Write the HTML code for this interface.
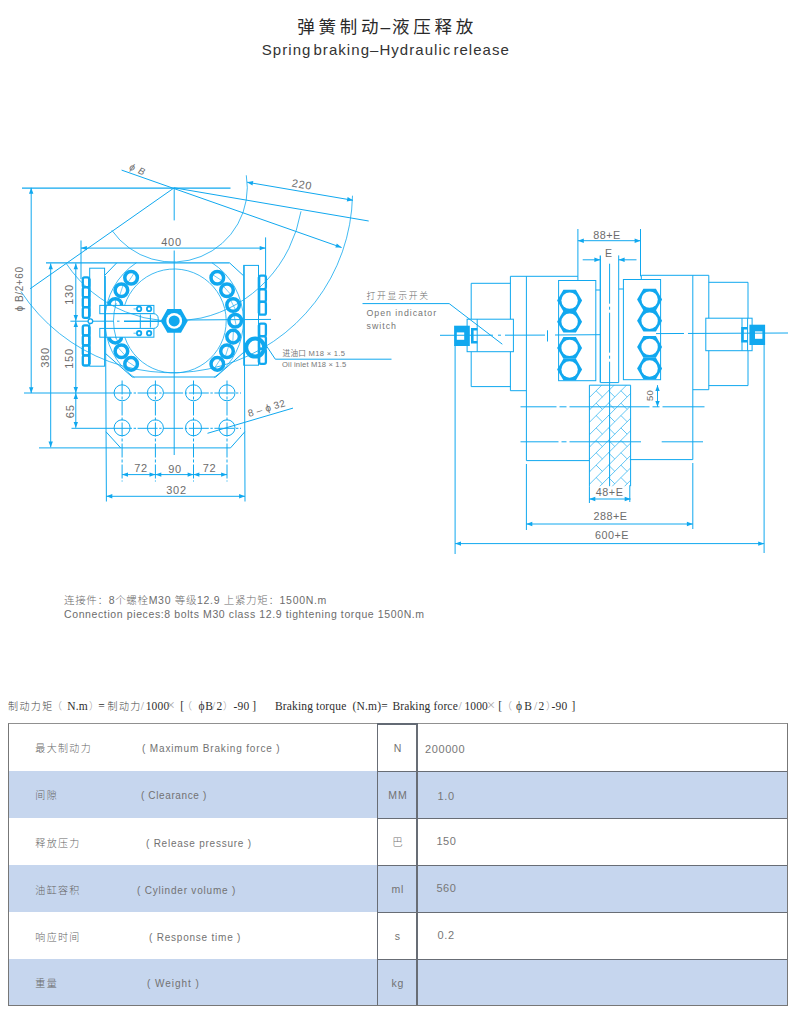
<!DOCTYPE html>
<html lang="zh"><head><meta charset="utf-8"><title>弹簧制动–液压释放</title>
<style>
html,body{margin:0;padding:0;background:#fff;}
body{width:796px;height:1014px;position:relative;overflow:hidden;
 font-family:"Liberation Sans","Noto Sans CJK SC",sans-serif;color:#555;}
.abs{position:absolute;white-space:nowrap;line-height:1;}
#title{left:297.2px;top:18.6px;font-size:17.5px;letter-spacing:3.75px;color:#2a2a2a;}
#sub{left:261.8px;top:41.5px;font-size:15px;letter-spacing:1.05px;word-spacing:-3.2px;color:#333;}
.note{left:64px;font-size:10.5px;color:#6c6c6c;letter-spacing:.55px;font-weight:300;}
.fm{top:700.5px;font-size:11.5px;color:#2e2e2e;font-family:"Liberation Serif","Noto Sans CJK SC",serif;letter-spacing:.15px;}
.fm.c{font-size:10px;top:701.5px;color:#444;font-family:"Liberation Sans","Noto Sans CJK SC",sans-serif;letter-spacing:1.4px;font-weight:300;}
.fm.l{color:#999;}
.fm.x{font-size:15px;top:697.8px;color:#a8a8a8;}
svg{position:absolute;left:0;top:0;}
#tbl{position:absolute;left:8px;top:724px;width:780px;height:282px;}
.row{position:absolute;left:0;width:779.4px;height:47px;}
.row.b{background:#c6d6ee;}
.row span{position:absolute;top:0;line-height:47px;font-size:10px;color:#727272;letter-spacing:.6px;white-space:nowrap;font-weight:300;}
.row .cn{font-size:10px;letter-spacing:1.35px;color:#666;}
.row .u{left:369px;width:41px;text-align:center;font-size:10.5px;letter-spacing:.8px;text-indent:.8px;}
.row .v{font-size:11px;letter-spacing:.6px;color:#777;}
.hl{position:absolute;left:369px;width:410px;height:1.3px;background:#686d75;}
.vl{position:absolute;top:0;height:282px;width:1.3px;background:#686d75;}
#frame{position:absolute;left:7.8px;top:723.1px;width:777.8px;height:281.4px;border:1.4px solid #777;border-top:1.8px solid #909090;}
</style></head><body>
<div id="title" class="abs">弹簧制动<span style="margin:0 -1.9px 0 -1.8px">–</span>液压释放</div>
<div id="sub" class="abs">Spring braking–Hydraulic release</div>
<svg width="796" height="1014" viewBox="0 0 796 1014" fill="none" stroke="#10a8ef" stroke-width="1" font-family="Liberation Sans, Noto Sans CJK SC, sans-serif">
<g id="left-view">
<circle cx="217.3" cy="277.7" r="6.3" stroke-width="3.5" fill="#fff"/>
<line x1="212.7" y1="274.7" x2="221.9" y2="280.7" stroke-width="0.6"/>
<circle cx="227" cy="290.3" r="6.3" stroke-width="3.5" fill="#fff"/>
<line x1="223.3" y1="286.2" x2="230.7" y2="294.4" stroke-width="0.6"/>
<circle cx="233.1" cy="305" r="6.3" stroke-width="3.5" fill="#fff"/>
<line x1="230.6" y1="300.1" x2="235.6" y2="309.9" stroke-width="0.6"/>
<circle cx="235.2" cy="320.8" r="6.3" stroke-width="3.5" fill="#fff"/>
<line x1="234.1" y1="315.4" x2="236.3" y2="326.2" stroke-width="0.6"/>
<circle cx="233.1" cy="336.6" r="6.3" stroke-width="3.5" fill="#fff"/>
<line x1="233.4" y1="331.1" x2="232.8" y2="342.1" stroke-width="0.6"/>
<circle cx="227" cy="351.3" r="6.3" stroke-width="3.5" fill="#fff"/>
<line x1="228.7" y1="346.1" x2="225.3" y2="356.5" stroke-width="0.6"/>
<circle cx="217.3" cy="363.9" r="6.3" stroke-width="3.5" fill="#fff"/>
<line x1="220.3" y1="359.3" x2="214.3" y2="368.5" stroke-width="0.6"/>
<circle cx="131.1" cy="363.9" r="6.3" stroke-width="3.5" fill="#fff"/>
<line x1="135.7" y1="366.9" x2="126.5" y2="360.9" stroke-width="0.6"/>
<circle cx="121.4" cy="351.3" r="6.3" stroke-width="3.5" fill="#fff"/>
<line x1="125.1" y1="355.4" x2="117.7" y2="347.2" stroke-width="0.6"/>
<circle cx="115.3" cy="336.6" r="6.3" stroke-width="3.5" fill="#fff"/>
<line x1="117.8" y1="341.5" x2="112.8" y2="331.7" stroke-width="0.6"/>
<circle cx="115.3" cy="305" r="6.3" stroke-width="3.5" fill="#fff"/>
<line x1="115" y1="310.5" x2="115.6" y2="299.5" stroke-width="0.6"/>
<circle cx="121.4" cy="290.3" r="6.3" stroke-width="3.5" fill="#fff"/>
<line x1="119.7" y1="295.5" x2="123.1" y2="285.1" stroke-width="0.6"/>
<circle cx="131.1" cy="277.7" r="6.3" stroke-width="3.5" fill="#fff"/>
<line x1="128.1" y1="282.3" x2="134.1" y2="273.1" stroke-width="0.6"/>
<rect x="99.8" y="305.4" width="54.1" height="8.3" fill="#fff"/>
<rect x="99.8" y="328.4" width="54.1" height="8.8" fill="#fff"/>
<path d="M113.9 313.7H153.6a4.6 4.6 0 0 1 4.6 4.6v5.5a4.6 4.6 0 0 1 -4.6 4.6H113.9" fill="#fff"/>
<rect x="89.7" y="268.2" width="14.9" height="98" />
<rect x="243.7" y="265.4" width="14.8" height="99.8" />
<rect x="82.8" y="277.4" width="6.4" height="9.8" rx="1.8" stroke-width="2.3" fill="#fff"/><rect x="82.8" y="287.4" width="6.4" height="9.8" rx="1.8" stroke-width="2.3" fill="#fff"/><rect x="82.8" y="297.4" width="6.4" height="9.8" rx="1.8" stroke-width="2.3" fill="#fff"/><rect x="82.8" y="307.4" width="6.4" height="10.4" rx="1.8" stroke-width="2.3" fill="#fff"/><line x1="89.4" y1="278.8" x2="89.4" y2="316.4" stroke-width="2.4"/><rect x="82.8" y="325.3" width="6.4" height="10" rx="1.8" stroke-width="2.3" fill="#fff"/><rect x="82.8" y="335.5" width="6.4" height="9.8" rx="1.8" stroke-width="2.3" fill="#fff"/><rect x="82.8" y="345.5" width="6.4" height="9.8" rx="1.8" stroke-width="2.3" fill="#fff"/><rect x="82.8" y="355.5" width="6.4" height="10" rx="1.8" stroke-width="2.3" fill="#fff"/><line x1="89.4" y1="326.7" x2="89.4" y2="364.1" stroke-width="2.4"/>
<rect x="259.1" y="275.7" width="6.8" height="13.4" rx="1.8" stroke-width="2.3" fill="#fff"/><rect x="259.1" y="289.3" width="6.8" height="12.4" rx="1.8" stroke-width="2.3" fill="#fff"/><rect x="259.1" y="301.9" width="6.8" height="12.8" rx="1.8" stroke-width="2.3" fill="#fff"/><line x1="258.9" y1="277.1" x2="258.9" y2="313.3" stroke-width="2.4"/><rect x="259.1" y="323.7" width="6.8" height="12.4" rx="1.8" stroke-width="2.3" fill="#fff"/><rect x="259.1" y="336.3" width="6.8" height="12.4" rx="1.8" stroke-width="2.3" fill="#fff"/><rect x="259.1" y="348.9" width="6.8" height="15" rx="1.8" stroke-width="2.3" fill="#fff"/><line x1="258.9" y1="325.1" x2="258.9" y2="362.5" stroke-width="2.4"/>
<line x1="22" y1="188" x2="230.5" y2="188" stroke-width="1.25"/>
<line x1="121.6" y1="170.1" x2="341.6" y2="247.5"/>
<path d="M341.6 247.5L335.3 247.6L336.8 243.5Z" fill="#10a8ef" stroke="none"/>
<line x1="174.2" y1="187.8" x2="368.7" y2="221"/>
<line x1="30.2" y1="288.7" x2="174.2" y2="187.8"/>
<path d="M246.3 175.3A74.5 74.5 0 0 1 111.8 230.3" stroke-width="0.8"/>
<path d="M301 211.3A129.8 133 0 0 1 66.5 263.9" stroke-width="0.8"/>
<path d="M352.5 195.7A180.7 180.7 0 0 1 20.9 291.4" stroke-width="0.8"/>
<line x1="247.1" y1="182.2" x2="353" y2="200.3"/><path d="M247.1 182.2L253.3 181L252.5 185.4Z" fill="#10a8ef" stroke="none"/><path d="M353 200.3L346.8 201.5L347.6 197.1Z" fill="#10a8ef" stroke="none"/>
<text x="301.4" y="188.3" font-size="11" text-anchor="middle" fill="#6c6c6c" stroke="none" letter-spacing="0.7" transform="rotate(9.7 301.4 188.3)">220</text>
<text x="136.5" y="172.5" font-size="9.5" text-anchor="middle" fill="#6c6c6c" stroke="none" letter-spacing="0.8" transform="rotate(22 136.5 172.5)" font-style="italic">ϕ B</text>
<line x1="31.2" y1="187.8" x2="31.2" y2="393.1"/><path d="M31.2 187.8L33.4 193.7L29 193.7Z" fill="#10a8ef" stroke="none"/><path d="M31.2 393.1L29 387.2L33.4 387.2Z" fill="#10a8ef" stroke="none"/>
<text x="22.6" y="289" font-size="10" text-anchor="middle" fill="#6c6c6c" stroke="none" letter-spacing="0.6" transform="rotate(-90 22.6 289)">ϕ B/2+60</text>
<line x1="81" y1="240.5" x2="81" y2="279"/>
<line x1="265.6" y1="237.4" x2="265.6" y2="278"/>
<line x1="81" y1="248.1" x2="265.6" y2="248.1"/><path d="M81 248.1L86.9 245.9L86.9 250.3Z" fill="#10a8ef" stroke="none"/><path d="M265.6 248.1L259.7 250.3L259.7 245.9Z" fill="#10a8ef" stroke="none"/>
<text x="171.5" y="246.2" font-size="11" text-anchor="middle" fill="#6c6c6c" stroke="none" letter-spacing="0.7">400</text>
<line x1="174.2" y1="187.8" x2="174.2" y2="220.4"/>
<line x1="174.2" y1="250.5" x2="174.2" y2="455"/>
<line x1="46" y1="262.9" x2="229.6" y2="262.9" stroke-width="1.2"/>
<line x1="116.7" y1="262.9" x2="105" y2="275"/>
<line x1="229.6" y1="262.9" x2="243.4" y2="275.6"/>
<line x1="50.7" y1="263.4" x2="50.7" y2="447.3"/><path d="M50.7 263.4L52.9 269.3L48.5 269.3Z" fill="#10a8ef" stroke="none"/><path d="M50.7 447.3L48.5 441.4L52.9 441.4Z" fill="#10a8ef" stroke="none"/>
<text x="49.3" y="357.5" font-size="11" text-anchor="middle" fill="#6c6c6c" stroke="none" letter-spacing="0.7" transform="rotate(-90 49.3 357.5)">380</text>
<line x1="75.8" y1="263.4" x2="75.8" y2="321"/><path d="M75.8 263.4L78 269.3L73.6 269.3Z" fill="#10a8ef" stroke="none"/><path d="M75.8 321L73.6 315.1L78 315.1Z" fill="#10a8ef" stroke="none"/>
<line x1="75.8" y1="321" x2="75.8" y2="393"/><path d="M75.8 321L78 326.9L73.6 326.9Z" fill="#10a8ef" stroke="none"/><path d="M75.8 393L73.6 387.1L78 387.1Z" fill="#10a8ef" stroke="none"/>
<line x1="75.8" y1="393" x2="75.8" y2="427.8"/><path d="M75.8 393L78 398.9L73.6 398.9Z" fill="#10a8ef" stroke="none"/><path d="M75.8 427.8L73.6 421.9L78 421.9Z" fill="#10a8ef" stroke="none"/>
<text x="73" y="294.5" font-size="11" text-anchor="middle" fill="#6c6c6c" stroke="none" letter-spacing="0.7" transform="rotate(-90 73 294.5)">130</text>
<text x="73" y="358.5" font-size="11" text-anchor="middle" fill="#6c6c6c" stroke="none" letter-spacing="0.7" transform="rotate(-90 73 358.5)">150</text>
<text x="73.6" y="411.3" font-size="11" text-anchor="middle" fill="#6c6c6c" stroke="none" letter-spacing="0.7" transform="rotate(-90 73.6 411.3)">65</text>
<line x1="70.4" y1="321.2" x2="113.5" y2="321.2"/>
<line x1="187" y1="320" x2="271" y2="319.4"/>
<circle cx="90.4" cy="321.2" r="2.3" fill="#fff" stroke-width="1.3"/>
<path d="M124.6 305.4A52 52 0 1 1 124.9 337.5" stroke-width="0.8"/>
<path d="M211.9 262.7A69.3 69.3 0 0 1 213.9 377.6" stroke-width="0.8"/>
<path d="M134.5 377.6A69.3 69.3 0 0 1 136.5 262.7" stroke-width="0.8"/>
<path d="M116.2 338.5A60.6 60.6 0 0 1 116.2 303.1" stroke-width="0.8"/>
<line x1="132.2" y1="377" x2="215.8" y2="377"/>
<line x1="132.2" y1="377" x2="105.5" y2="353.5"/>
<line x1="215.8" y1="377" x2="244" y2="352"/>
<line x1="140.3" y1="314.5" x2="140.3" y2="328"/>
<line x1="150.4" y1="314.5" x2="150.4" y2="327.6"/>
<line x1="124" y1="321.2" x2="161" y2="321.2" stroke-width="1.5"/>
<line x1="117" y1="321.2" x2="119.5" y2="321.2"/>
<circle cx="139.1" cy="308.9" r="2.2" stroke-width="1.8" fill="#fff"/>
<circle cx="139.1" cy="333.2" r="2.2" stroke-width="1.8" fill="#fff"/>
<circle cx="149.1" cy="308.9" r="2.2" stroke-width="1.8" fill="#fff"/>
<circle cx="149.1" cy="333.2" r="2.2" stroke-width="1.8" fill="#fff"/>
<line x1="133.5" y1="308.9" x2="136" y2="308.9" stroke-width="0.7"/>
<line x1="133.5" y1="333.2" x2="136" y2="333.2" stroke-width="0.7"/>
<polygon points="187.8,320.9 181,332.7 167.4,332.7 160.6,320.9 167.4,309.1 181,309.1" fill="#10a8ef" stroke="none"/>
<circle cx="174.2" cy="320.90000000000003" r="7.9" fill="#fff" stroke="none"/>
<circle cx="174.2" cy="320.90000000000003" r="5.5" fill="#10a8ef" stroke="none"/>
<circle cx="255.2" cy="347.6" r="9" stroke-width="4"/>
<path d="M265.6 344.6L275.3 359.2H391.5"/>
<text x="282.5" y="355.8" font-size="7.6" text-anchor="start" fill="#777" stroke="none" letter-spacing="0.3">进油口 M18 × 1.5</text>
<text x="282" y="367" font-size="7.6" text-anchor="start" fill="#777" stroke="none" letter-spacing="0.15">Oil inlet M18 × 1.5</text>
<line x1="105.3" y1="276" x2="106.4" y2="501.5"/>
<line x1="244.2" y1="265.4" x2="245" y2="501.5"/>
<line x1="39" y1="447.9" x2="230.5" y2="447.9"/>
<line x1="106" y1="431.8" x2="120.7" y2="447.9"/>
<line x1="244.8" y1="431.8" x2="230.5" y2="447.9"/>
<circle cx="122.1" cy="392.8" r="8"/>
<circle cx="155.4" cy="392.8" r="8"/>
<circle cx="193.5" cy="392.8" r="8"/>
<circle cx="227" cy="392.8" r="8"/>
<circle cx="122.1" cy="427.8" r="8"/>
<circle cx="155.4" cy="427.8" r="8"/>
<circle cx="193.5" cy="427.8" r="8"/>
<circle cx="227" cy="427.8" r="8"/>
<line x1="24" y1="393" x2="112" y2="393"/>
<line x1="71.5" y1="428.3" x2="112" y2="428.3"/>
<line x1="112" y1="393" x2="241" y2="393" stroke-dasharray="20 1.6 2.4 1.6"/>
<line x1="112" y1="428.3" x2="241" y2="428.3" stroke-dasharray="20 1.6 2.4 1.6"/>
<line x1="122.1" y1="380.5" x2="122.1" y2="481.5" stroke-dasharray="14 2 3 2"/>
<line x1="155.4" y1="380.5" x2="155.4" y2="481.5" stroke-dasharray="14 2 3 2"/>
<line x1="193.5" y1="380.5" x2="193.5" y2="481.5" stroke-dasharray="14 2 3 2"/>
<line x1="227" y1="380.5" x2="227" y2="481.5" stroke-dasharray="14 2 3 2"/>
<line x1="207.5" y1="433.3" x2="293" y2="408.1"/>
<text x="267.5" y="411.5" font-size="10" text-anchor="middle" fill="#6c6c6c" stroke="none" letter-spacing="0.3" transform="rotate(-16.4 267.5 411.5)">8 – ϕ 32</text>
<line x1="122.1" y1="474.6" x2="155.4" y2="474.6"/><path d="M122.1 474.6L128 472.4L128 476.8Z" fill="#10a8ef" stroke="none"/><path d="M155.4 474.6L149.5 476.8L149.5 472.4Z" fill="#10a8ef" stroke="none"/>
<line x1="155.4" y1="474.6" x2="193.5" y2="474.6"/><path d="M155.4 474.6L161.3 472.4L161.3 476.8Z" fill="#10a8ef" stroke="none"/><path d="M193.5 474.6L187.6 476.8L187.6 472.4Z" fill="#10a8ef" stroke="none"/>
<line x1="193.5" y1="474.6" x2="227" y2="474.6"/><path d="M193.5 474.6L199.4 472.4L199.4 476.8Z" fill="#10a8ef" stroke="none"/><path d="M227 474.6L221.1 476.8L221.1 472.4Z" fill="#10a8ef" stroke="none"/>
<text x="141" y="472.2" font-size="11" text-anchor="middle" fill="#6c6c6c" stroke="none" letter-spacing="0.7">72</text>
<text x="175" y="472.6" font-size="11" text-anchor="middle" fill="#6c6c6c" stroke="none" letter-spacing="0.7">90</text>
<text x="209.5" y="472.2" font-size="11" text-anchor="middle" fill="#6c6c6c" stroke="none" letter-spacing="0.7">72</text>
<line x1="106.4" y1="496.3" x2="245" y2="496.3"/><path d="M106.4 496.3L112.3 494.1L112.3 498.5Z" fill="#10a8ef" stroke="none"/><path d="M245 496.3L239.1 498.5L239.1 494.1Z" fill="#10a8ef" stroke="none"/>
<text x="176.5" y="493.8" font-size="11" text-anchor="middle" fill="#6c6c6c" stroke="none" letter-spacing="0.7">302</text>
</g>
<g id="right-view">
<line x1="555" y1="335" x2="600" y2="334.7"/>
<line x1="547.5" y1="330.3" x2="547.5" y2="341.5"/>
<path d="M510.4 390.7V276.3H577.9V280.5"/><line x1="510.4" y1="390.7" x2="526.4" y2="390.7"/><line x1="526.4" y1="276.3" x2="526.4" y2="460.6"/><line x1="526.4" y1="460.6" x2="589.4" y2="460.6"/><path d="M510.4 283.3H471.2V386.6H510.4"/><rect x="558.6" y="280.5" width="37.2" height="100.2"/><line x1="595.8" y1="290" x2="600.3" y2="290"/><polygon points="582.1,300.6 575.9,311.4 563.4,311.4 557.1,300.6 563.4,289.8 575.9,289.8" fill="#10a8ef" stroke="none"/><circle cx="569.6" cy="300.6" r="8.2" fill="#fff" stroke="none"/><polygon points="582.1,321.8 575.9,332.6 563.4,332.6 557.1,321.8 563.4,311 575.9,311" fill="#10a8ef" stroke="none"/><circle cx="569.6" cy="321.8" r="8.2" fill="#fff" stroke="none"/><polygon points="582.1,347.9 575.9,358.7 563.4,358.7 557.1,347.9 563.4,337.1 575.9,337.1" fill="#10a8ef" stroke="none"/><circle cx="569.6" cy="347.9" r="8.2" fill="#fff" stroke="none"/><polygon points="582.1,369.5 575.9,380.3 563.4,380.3 557.1,369.5 563.4,358.7 575.9,358.7" fill="#10a8ef" stroke="none"/><circle cx="569.6" cy="369.5" r="8.2" fill="#fff" stroke="none"/><rect x="467.1" y="319.2" width="46.3" height="32.5" fill="#fff"/><line x1="477.2" y1="319.2" x2="477.2" y2="351.7"/><rect x="454.1" y="325.7" width="15.7" height="20.3" fill="#10a8ef" stroke="none"/><rect x="456.8" y="332.4" width="7.4" height="7.4" fill="#fff" stroke="none"/><path d="M477.4 329.2H472.3V342.2H477.4" stroke-width="2.6"/><line x1="455.1" y1="345.2" x2="455.1" y2="554"/><line x1="526.4" y1="464" x2="526.4" y2="530"/><line x1="589.4" y1="486.2" x2="589.4" y2="503"/>
<g transform="translate(0 -1)"><path d="M708.8 390.7V276.3H641.3V280.5"/><line x1="708.8" y1="390.7" x2="692.8" y2="390.7"/><line x1="692.8" y1="276.3" x2="692.8" y2="460.6"/><line x1="692.8" y1="460.6" x2="629.8" y2="460.6"/><path d="M708.8 283.3H748V386.6H708.8"/><rect x="623.4" y="280.5" width="37.2" height="100.2"/><line x1="623.4" y1="290" x2="618.9" y2="290"/><polygon points="662.1,300.6 655.9,311.4 643.4,311.4 637.1,300.6 643.4,289.8 655.9,289.8" fill="#10a8ef" stroke="none"/><circle cx="649.6" cy="300.6" r="8.2" fill="#fff" stroke="none"/><polygon points="662.1,321.8 655.9,332.6 643.4,332.6 637.1,321.8 643.4,311 655.9,311" fill="#10a8ef" stroke="none"/><circle cx="649.6" cy="321.8" r="8.2" fill="#fff" stroke="none"/><polygon points="662.1,347.9 655.9,358.7 643.4,358.7 637.1,347.9 643.4,337.1 655.9,337.1" fill="#10a8ef" stroke="none"/><circle cx="649.6" cy="347.9" r="8.2" fill="#fff" stroke="none"/><polygon points="662.1,369.5 655.9,380.3 643.4,380.3 637.1,369.5 643.4,358.7 655.9,358.7" fill="#10a8ef" stroke="none"/><circle cx="649.6" cy="369.5" r="8.2" fill="#fff" stroke="none"/><rect x="705.8" y="319.2" width="46.3" height="32.5" fill="#fff"/><line x1="742" y1="319.2" x2="742" y2="351.7"/><rect x="749.4" y="325.7" width="15.7" height="20.3" fill="#10a8ef" stroke="none"/><rect x="755" y="332.4" width="7.4" height="7.4" fill="#fff" stroke="none"/><path d="M747.4 329.2H742.5V342.2H747.4" stroke-width="2.6"/><line x1="747.6" y1="319.2" x2="747.6" y2="351.7"/><line x1="764.1" y1="345.2" x2="764.1" y2="554"/><line x1="692.8" y1="464" x2="692.8" y2="530"/><line x1="629.8" y1="486.2" x2="629.8" y2="503"/></g>
<line x1="440" y1="335.3" x2="545" y2="335.1" stroke-dasharray="53 5 3 4 40 0"/>
<line x1="656" y1="333.6" x2="788" y2="333" stroke-dasharray="28 4 18 0 100 0"/>
<line x1="600.3" y1="255.4" x2="600.3" y2="382.6" stroke-width="1.3"/>
<line x1="618.7" y1="255.4" x2="618.7" y2="382.6"/>
<line x1="600.3" y1="382.6" x2="618.7" y2="382.6"/>
<line x1="609.6" y1="263.7" x2="609.6" y2="382" stroke-dasharray="40 3 3 3"/>
<line x1="609.6" y1="382" x2="609.6" y2="486.2"/>
<clipPath id="hc"><rect x="589.4" y="385.2" width="41.2" height="101"/></clipPath><g clip-path="url(#hc)" stroke-width="0.65"><line x1="587.4" y1="362.3" x2="632.6" y2="317.1"/><line x1="587.4" y1="374.7" x2="632.6" y2="329.5"/><line x1="583.8" y1="378.3" x2="589.9" y2="384.5"/><line x1="587.4" y1="387.1" x2="632.6" y2="341.9"/><line x1="583.8" y1="390.7" x2="589.9" y2="396.9"/><line x1="596.1" y1="378.3" x2="602.3" y2="384.5"/><line x1="587.4" y1="399.5" x2="632.6" y2="354.3"/><line x1="583.8" y1="403.1" x2="589.9" y2="409.3"/><line x1="596.1" y1="390.8" x2="602.4" y2="396.9"/><line x1="608.5" y1="378.3" x2="614.8" y2="384.5"/><line x1="587.4" y1="411.9" x2="632.6" y2="366.7"/><line x1="583.8" y1="415.5" x2="589.9" y2="421.8"/><line x1="596.1" y1="403.1" x2="602.3" y2="409.3"/><line x1="608.5" y1="390.8" x2="614.8" y2="396.9"/><line x1="621" y1="378.3" x2="627.1" y2="384.5"/><line x1="587.4" y1="424.3" x2="632.6" y2="379.1"/><line x1="583.8" y1="427.9" x2="589.9" y2="434.1"/><line x1="596.1" y1="415.5" x2="602.3" y2="421.7"/><line x1="608.5" y1="403.1" x2="614.8" y2="409.3"/><line x1="620.9" y1="390.7" x2="627.1" y2="396.9"/><line x1="633.3" y1="378.3" x2="639.5" y2="384.5"/><line x1="587.4" y1="436.7" x2="632.6" y2="391.5"/><line x1="583.8" y1="440.3" x2="590" y2="446.6"/><line x1="596.1" y1="427.9" x2="602.4" y2="434.1"/><line x1="608.5" y1="415.5" x2="614.8" y2="421.8"/><line x1="620.9" y1="403.1" x2="627.1" y2="409.4"/><line x1="633.3" y1="390.7" x2="639.5" y2="396.9"/><line x1="587.4" y1="449.1" x2="632.6" y2="403.9"/><line x1="583.8" y1="452.8" x2="590" y2="459"/><line x1="596.1" y1="440.4" x2="602.4" y2="446.6"/><line x1="608.5" y1="427.9" x2="614.8" y2="434.2"/><line x1="621" y1="415.6" x2="627.2" y2="421.8"/><line x1="633.4" y1="403.1" x2="639.6" y2="409.4"/><line x1="587.4" y1="461.5" x2="632.6" y2="416.3"/><line x1="583.7" y1="465.1" x2="589.9" y2="471.3"/><line x1="596.1" y1="452.7" x2="602.4" y2="458.9"/><line x1="608.5" y1="440.3" x2="614.8" y2="446.5"/><line x1="620.9" y1="427.9" x2="627.1" y2="434.1"/><line x1="633.3" y1="415.5" x2="639.5" y2="421.8"/><line x1="587.4" y1="473.9" x2="632.6" y2="428.7"/><line x1="583.8" y1="477.5" x2="590" y2="483.8"/><line x1="596.1" y1="465.1" x2="602.4" y2="471.4"/><line x1="608.5" y1="452.8" x2="614.8" y2="459"/><line x1="620.9" y1="440.3" x2="627.1" y2="446.6"/><line x1="633.4" y1="427.9" x2="639.6" y2="434.2"/><line x1="587.4" y1="486.3" x2="632.6" y2="441.1"/><line x1="596.1" y1="477.5" x2="602.3" y2="483.7"/><line x1="608.5" y1="465.1" x2="614.8" y2="471.3"/><line x1="620.9" y1="452.7" x2="627.1" y2="458.9"/><line x1="633.3" y1="440.3" x2="639.5" y2="446.5"/><line x1="587.4" y1="498.7" x2="632.6" y2="453.5"/><line x1="608.5" y1="477.5" x2="614.8" y2="483.8"/><line x1="620.9" y1="465.1" x2="627.1" y2="471.4"/><line x1="633.3" y1="452.7" x2="639.5" y2="458.9"/><line x1="587.4" y1="511.1" x2="632.6" y2="465.9"/><line x1="621" y1="477.6" x2="627.2" y2="483.8"/><line x1="633.4" y1="465.1" x2="639.6" y2="471.4"/><line x1="587.4" y1="523.5" x2="632.6" y2="478.3"/><line x1="633.3" y1="477.5" x2="639.5" y2="483.8"/></g><path d="M589.4 486.2V385.2H630.6V486.2"/>
<line x1="520.5" y1="406.8" x2="704.5" y2="406.8" stroke-dasharray="36 3 7 3 80 3 7 3 60 0"/>
<line x1="520.5" y1="441.8" x2="641" y2="441.8" stroke-dasharray="38 3 5 3 80 0"/>
<line x1="661.7" y1="441.8" x2="703" y2="441.8"/>
<line x1="577.9" y1="229" x2="577.9" y2="276.3"/>
<line x1="640.5" y1="229" x2="640.5" y2="276.3"/>
<line x1="577.9" y1="240.7" x2="640.5" y2="240.7"/><path d="M577.9 240.7L583.8 238.5L583.8 242.9Z" fill="#10a8ef" stroke="none"/><path d="M640.5 240.7L634.6 242.9L634.6 238.5Z" fill="#10a8ef" stroke="none"/>
<text x="607" y="238.6" font-size="10.8" text-anchor="middle" fill="#6c6c6c" stroke="none" letter-spacing="0.5">88+E</text>
<line x1="582.7" y1="259.8" x2="600.3" y2="259.8"/>
<path d="M600.3 259.8L594.4 262L594.4 257.6Z" fill="#10a8ef" stroke="none"/>
<line x1="618.7" y1="259.8" x2="636.5" y2="259.8"/>
<path d="M618.7 259.8L624.6 257.6L624.6 262Z" fill="#10a8ef" stroke="none"/>
<text x="608.8" y="257.4" font-size="10.5" text-anchor="middle" fill="#6c6c6c" stroke="none" letter-spacing="0.4">E</text>
<line x1="657.5" y1="385.2" x2="657.5" y2="406.8"/><path d="M657.5 385.2L659.7 391.1L655.3 391.1Z" fill="#10a8ef" stroke="none"/><path d="M657.5 406.8L655.3 400.9L659.7 400.9Z" fill="#10a8ef" stroke="none"/>
<text x="653.3" y="395.6" font-size="9.5" text-anchor="middle" fill="#6c6c6c" stroke="none" letter-spacing="0.2" transform="rotate(-90 653.3 395.6)">50</text>
<line x1="589.4" y1="499" x2="630.6" y2="499"/><path d="M589.4 499L595.3 496.8L595.3 501.2Z" fill="#10a8ef" stroke="none"/><path d="M630.6 499L624.7 501.2L624.7 496.8Z" fill="#10a8ef" stroke="none"/>
<text x="609.6" y="496.2" font-size="10.8" text-anchor="middle" fill="#6c6c6c" stroke="none" letter-spacing="0.5">48+E</text>
<line x1="526.4" y1="524" x2="692.8" y2="524"/><path d="M526.4 524L532.3 521.8L532.3 526.2Z" fill="#10a8ef" stroke="none"/><path d="M692.8 524L686.9 526.2L686.9 521.8Z" fill="#10a8ef" stroke="none"/>
<text x="610.5" y="519.6" font-size="10.8" text-anchor="middle" fill="#6c6c6c" stroke="none" letter-spacing="0.5">288+E</text>
<line x1="455.1" y1="543.6" x2="764.1" y2="543.6"/><path d="M455.1 543.6L461 541.4L461 545.8Z" fill="#10a8ef" stroke="none"/><path d="M764.1 543.6L758.2 545.8L758.2 541.4Z" fill="#10a8ef" stroke="none"/>
<text x="612" y="538.9" font-size="10.8" text-anchor="middle" fill="#6c6c6c" stroke="none" letter-spacing="0.5">600+E</text>
<path d="M362.5 303.6H449.2L502.3 344.2"/>
<text x="366.5" y="299.4" font-size="8.8" text-anchor="start" fill="#6a6a6a" stroke="none" letter-spacing="1.75" font-weight="300">打开显示开关</text>
<text x="366.5" y="315.6" font-size="8.8" text-anchor="start" fill="#757575" stroke="none" letter-spacing="0.95">Open indicator</text>
<text x="366.5" y="329.3" font-size="8.8" text-anchor="start" fill="#757575" stroke="none" letter-spacing="1.0">switch</text>
</g>
</svg>
<div class="abs note" style="top:595px;letter-spacing:.67px">连接件：8个螺栓M30 等级12.9 上紧力矩：1500N.m</div>
<div class="abs note" style="top:609px;letter-spacing:.61px">Connection pieces:8 bolts M30 class 12.9 tightening torque 1500N.m</div>
<span class="abs fm c" style="left:8px">制动力矩</span><span class="abs fm c l" style="left:52px">（</span><span class="abs fm " style="left:67.3px">N.m</span><span class="abs fm c l" style="left:89px">）</span><span class="abs fm " style="left:98.3px">=</span><span class="abs fm c" style="left:107.5px">制动力</span><span class="abs fm l" style="left:140.8px">/</span><span class="abs fm " style="left:145.7px">1000</span><span class="abs fm x" style="left:166.6px">×</span><span class="abs fm " style="left:180.2px">[</span><span class="abs fm c l" style="left:182px">（</span><span class="abs fm " style="left:198.4px">ϕ</span><span class="abs fm " style="left:205.2px">B</span><span class="abs fm l" style="left:212px">/</span><span class="abs fm " style="left:216.5px">2</span><span class="abs fm c l" style="left:223px">）</span><span class="abs fm " style="left:233.5px">-90</span><span class="abs fm " style="left:252.3px">]</span><span class="abs fm " style="left:275px">Braking torque</span><span class="abs fm " style="left:352.6px">(N.m)=</span><span class="abs fm " style="left:392.4px">Braking force</span><span class="abs fm l" style="left:458.6px">/</span><span class="abs fm " style="left:464.4px">1000</span><span class="abs fm x" style="left:486.8px">×</span><span class="abs fm " style="left:498.2px">[</span><span class="abs fm c l" style="left:502px">（</span><span class="abs fm " style="left:516px">ϕ</span><span class="abs fm " style="left:524.3px">B</span><span class="abs fm l" style="left:534px">/</span><span class="abs fm " style="left:538.6px">2</span><span class="abs fm c l" style="left:546px">）</span><span class="abs fm " style="left:551.6px">-90</span><span class="abs fm " style="left:571.6px">]</span>
<div id="tbl">
<div class="row" style="top:0px"><span class="cn" style="left:27.3px;top:1.2px">最大制动力</span><span style="left:134px;top:1.2px;letter-spacing:0.85px">( Maximum Braking force )</span><span class="u" style="top:.8px">N</span><span class="v" style="left:417px;top:1.5px">200000</span></div>
<div class="row b" style="top:47px"><span class="cn" style="left:27.3px;top:0.6px">间隙</span><span style="left:133px;top:0.6px;letter-spacing:0.62px">( Clearance )</span><span class="u" style="top:.8px">MM</span><span class="v" style="left:429.6px;top:1.9px">1.0</span></div>
<div class="row" style="top:94px"><span class="cn" style="left:27.3px;top:1.8px">释放压力</span><span style="left:138px;top:1.8px;letter-spacing:0.76px">( Release pressure )</span><span class="u" style="top:.8px">巴</span><span class="v" style="left:428.4px;top:-0.4px">150</span></div>
<div class="row b" style="top:141px"><span class="cn" style="left:27.3px;top:1.8px">油缸容积</span><span style="left:129px;top:1.8px;letter-spacing:0.8px">( Cylinder volume )</span><span class="u" style="top:.8px">ml</span><span class="v" style="left:428.4px;top:-0.4px">560</span></div>
<div class="row" style="top:188px"><span class="cn" style="left:27.3px;top:2.2px">响应时间</span><span style="left:141px;top:2.2px;letter-spacing:0.78px">( Response time )</span><span class="u" style="top:.8px">s</span><span class="v" style="left:429.6px;top:0.2px">0.2</span></div>
<div class="row b" style="top:235px"><span class="cn" style="left:27.3px;top:0.8px">重量</span><span style="left:139px;top:0.8px;letter-spacing:0.95px">( Weight )</span><span class="u" style="top:.8px">kg</span><span class="v" style="left:428px;top:0px"></span></div>
<div class="hl" style="top:46.7px"></div>
<div class="hl" style="top:93.7px"></div>
<div class="hl" style="top:140.7px"></div>
<div class="hl" style="top:187.7px"></div>
<div class="hl" style="top:234.7px"></div>
<div class="vl" style="left:368.6px"></div>
<div class="vl" style="left:408.4px"></div>
</div>
<div id="frame"></div>
<div style="position:absolute;left:376.6px;top:723.4px;width:41.2px;height:1.5px;background:#636a74"></div>
</body></html>
